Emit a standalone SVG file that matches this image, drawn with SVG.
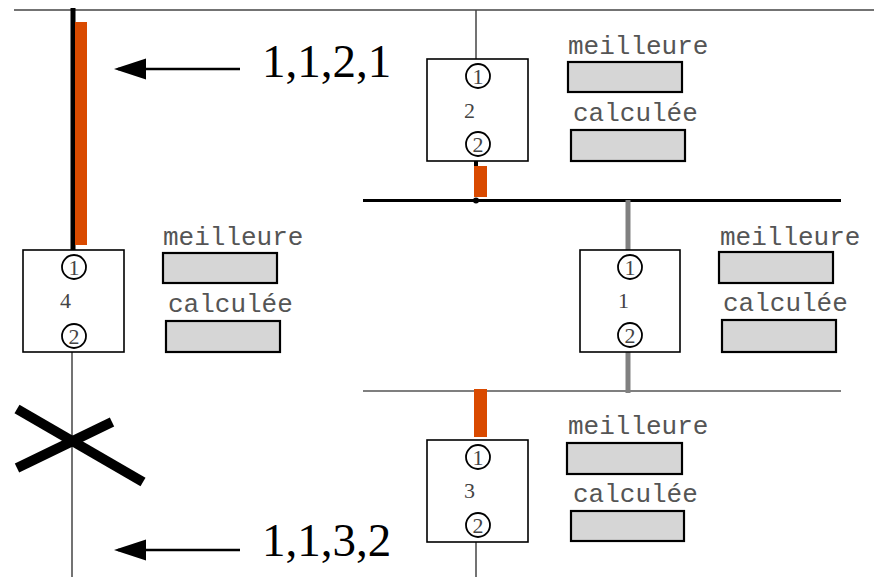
<svg xmlns="http://www.w3.org/2000/svg" width="874" height="577" viewBox="0 0 874 577">
<style>
.box{fill:#fff;stroke:#000;stroke-width:1.6}
.port{fill:#fff;stroke:#000;stroke-width:1.8}
.pn{font-family:"Liberation Serif",serif;font-size:22px;fill:#444;text-anchor:middle}
.nl{font-family:"Liberation Serif",serif;font-size:22px;fill:#444}
.lbl{font-family:"Liberation Mono",monospace;font-size:26px;fill:#555}
.fld{fill:#d6d6d6;stroke:#000;stroke-width:2.2}
.big{font-family:"Liberation Serif",serif;font-size:47px;fill:#000}
.thin{stroke:#444;stroke-width:1.5;fill:none}
.orange{fill:#d94a00}
</style>
<g id="connectors">
<line class="thin" x1="14" y1="10" x2="874" y2="10"/>
<line x1="363" y1="200.5" x2="841" y2="200.5" stroke="#000" stroke-width="3"/>
<line x1="363" y1="391" x2="841" y2="391" stroke="#555" stroke-width="1.5"/>
<line x1="73" y1="8" x2="73" y2="257" stroke="#000" stroke-width="5"/>
<rect class="orange" x="75" y="22" width="12" height="223"/>
<line class="thin" x1="476" y1="10" x2="476" y2="59"/>
<line x1="476" y1="156" x2="476" y2="167" stroke="#000" stroke-width="4"/>
<rect class="orange" x="474" y="166" width="13" height="31"/>
<circle cx="476" cy="200.5" r="3" fill="#000"/>
<line x1="628" y1="200" x2="628" y2="255" stroke="#808080" stroke-width="5"/>
<line x1="628" y1="348" x2="628" y2="393" stroke="#808080" stroke-width="5"/>
<rect class="orange" x="474" y="389" width="13" height="48"/>
<line class="thin" x1="476" y1="537" x2="476" y2="577"/>
<line class="thin" x1="72" y1="348" x2="72" y2="577"/>
<line x1="17" y1="409" x2="143" y2="482" stroke="#000" stroke-width="10"/>
<line x1="17" y1="468" x2="112" y2="422" stroke="#000" stroke-width="10"/>
<line x1="240" y1="69" x2="118" y2="69" stroke="#000" stroke-width="2.5"/>
<path d="M114,69 L146,58.5 L146,79.5 Z" fill="#000"/>
<line x1="240" y1="550" x2="118" y2="550" stroke="#000" stroke-width="2.5"/>
<path d="M114,550 L146,539.5 L146,560.5 Z" fill="#000"/>
<text class="big" x="262" y="77">1,1,2,1</text>
<text class="big" x="262" y="556">1,1,3,2</text>
</g>
<g id="node2">
<rect class="box" x="427" y="59" width="101" height="102"/>
<circle class="port" cx="478" cy="76" r="12"/>
<text class="pn" x="478" y="84">1</text>
<text class="nl" x="464" y="118">2</text>
<circle class="port" cx="478" cy="144" r="12"/>
<text class="pn" x="478" y="152">2</text>
<text class="lbl" x="568" y="54">meilleure</text>
<rect class="fld" x="568" y="62" width="114" height="30"/>
<text class="lbl" x="573" y="121">calculée</text>
<rect class="fld" x="571" y="130" width="114" height="31"/>
</g>
<g id="node4">
<rect class="box" x="23" y="250" width="101" height="102"/>
<circle class="port" cx="74" cy="267" r="12"/>
<text class="pn" x="74" y="275">1</text>
<text class="nl" x="60" y="308">4</text>
<circle class="port" cx="74" cy="336" r="12"/>
<text class="pn" x="74" y="344">2</text>
<text class="lbl" x="163" y="245">meilleure</text>
<rect class="fld" x="163" y="253" width="114" height="30"/>
<text class="lbl" x="168" y="312">calculée</text>
<rect class="fld" x="166" y="321" width="114" height="31"/>
</g>
<g id="node1">
<rect class="box" x="580" y="250" width="100" height="102"/>
<circle class="port" cx="630" cy="267" r="12"/>
<text class="pn" x="630" y="275">1</text>
<text class="nl" x="618" y="308">1</text>
<circle class="port" cx="630" cy="335" r="12"/>
<text class="pn" x="630" y="343">2</text>
<text class="lbl" x="720" y="245">meilleure</text>
<rect class="fld" x="719" y="252" width="114" height="31"/>
<text class="lbl" x="723" y="311">calculée</text>
<rect class="fld" x="722" y="320" width="114" height="32"/>
</g>
<g id="node3">
<rect class="box" x="427" y="440" width="101" height="102"/>
<circle class="port" cx="478" cy="457" r="12"/>
<text class="pn" x="478" y="465">1</text>
<text class="nl" x="464" y="498">3</text>
<circle class="port" cx="478" cy="525" r="12"/>
<text class="pn" x="478" y="533">2</text>
<text class="lbl" x="568" y="434">meilleure</text>
<rect class="fld" x="567" y="443" width="115" height="31"/>
<text class="lbl" x="573" y="502">calculée</text>
<rect class="fld" x="571" y="511" width="113" height="30"/>
</g>
</svg>
